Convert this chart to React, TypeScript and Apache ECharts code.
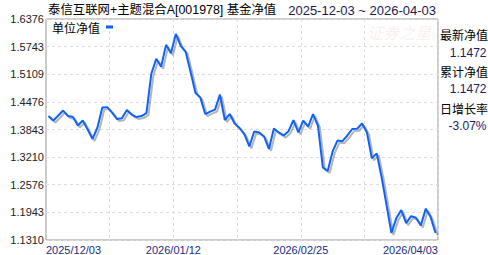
import React, { useEffect, useRef } from "react";
import * as echarts from "echarts";

const dates = [
  "2025/12/03","2025/12/04","2025/12/05","2025/12/08","2025/12/09","2025/12/10","2025/12/11","2025/12/12",
  "2025/12/15","2025/12/16","2025/12/17","2025/12/18","2025/12/19","2025/12/22","2025/12/23","2025/12/24",
  "2025/12/25","2025/12/26","2025/12/29","2025/12/30","2025/12/31",
  "2026/01/05","2026/01/06","2026/01/07","2026/01/08","2026/01/09","2026/01/12","2026/01/13","2026/01/14",
  "2026/01/15","2026/01/16","2026/01/19","2026/01/20","2026/01/21","2026/01/22","2026/01/23","2026/01/26",
  "2026/01/27","2026/01/28","2026/01/29","2026/01/30",
  "2026/02/02","2026/02/03","2026/02/04","2026/02/05","2026/02/06","2026/02/09","2026/02/10","2026/02/11",
  "2026/02/12","2026/02/13","2026/02/24","2026/02/25","2026/02/26","2026/02/27",
  "2026/03/02","2026/03/03","2026/03/04","2026/03/05","2026/03/06","2026/03/09","2026/03/10","2026/03/11",
  "2026/03/12","2026/03/13","2026/03/16","2026/03/17","2026/03/18","2026/03/19","2026/03/20","2026/03/23",
  "2026/03/24","2026/03/25","2026/03/26","2026/03/27","2026/03/30","2026/03/31",
  "2026/04/01","2026/04/02","2026/04/03",
];

const unitNav = [
  1.4151, 1.4048, 1.4163, 1.4277, 1.4151, 1.4128, 1.3934, 1.4048, 1.3843, 1.3626,
  1.3889, 1.4345, 1.4356, 1.4231, 1.4083, 1.4101, 1.4288, 1.4185, 1.4128, 1.4151,
  1.4220, 1.5121, 1.5463, 1.5281, 1.5783, 1.5589, 1.6034, 1.5760, 1.5623, 1.5167,
  1.4687, 1.4573, 1.4197, 1.4254, 1.4299, 1.4642, 1.4060, 1.4197, 1.3980, 1.3877,
  1.3729, 1.3455, 1.3797, 1.3775, 1.3683, 1.3398, 1.3866, 1.3775, 1.3706, 1.3804,
  1.4060, 1.3775, 1.4048, 1.3911, 1.4197, 1.3934, 1.2976, 1.2896, 1.3341, 1.3592,
  1.3576, 1.3706, 1.3854, 1.3859, 1.3980, 1.3775, 1.3181, 1.3295, 1.2748, 1.2109,
  1.1470, 1.1812, 1.1995, 1.1698, 1.1858, 1.1819, 1.1641, 1.2029, 1.1835, 1.1472,
];

const yTickLabels = ["1.1310", "1.1943", "1.2576", "1.3210", "1.3843", "1.4476", "1.5109", "1.5743", "1.6376"];
const yMin = 1.131;
const yMax = 1.6376;

const titleText = "泰信互联网+主题混合A[001978] 基金净值";
const rangeText = "2025-12-03 ~ 2026-04-03";
const seriesName = "单位净值";
const sideLabels = ["最新净值", "累计净值", "日增长率"];
const sideValues = ["1.1472", "1.1472", "-3.07%"];
const watermark = "证券之星";

export default function App() {
  const ref = useRef<HTMLDivElement>(null);
  useEffect(() => {
    if (!ref.current) return;
    const chart = echarts.init(ref.current, null, { renderer: "svg" });
    const yStep = (yMax - yMin) / (yTickLabels.length - 1);
    const n = dates.length;
    const labelStep = 26;
    const sideY = [34.5, 53, 71.5, 89, 108, 125.5];
    const graphics: any[] = [
      {
        type: "text",
        x: 48,
        y: 10,
        style: {
          text: titleText,
          fill: "#000",
          font: '12.4px "Liberation Sans", "Noto Sans CJK SC", sans-serif',
          textVerticalAlign: "middle",
        },
      },
      {
        type: "text",
        x: 436,
        y: 10,
        style: {
          text: rangeText,
          fill: "#1a1a50",
          font: '13px "Liberation Sans", Arial, sans-serif',
          textAlign: "right",
          textVerticalAlign: "middle",
        },
      },
      {
        type: "text",
        x: 399,
        y: 32,
        z: 0,
        style: {
          text: watermark,
          fill: "rgba(240,140,150,0.16)",
          font: 'italic 16px "Noto Sans CJK SC", sans-serif',
          textAlign: "center",
          textVerticalAlign: "middle",
        },
      },
    ];
    sideLabels.forEach((t, i) => {
      graphics.push({
        type: "text",
        x: 440,
        y: sideY[i * 2],
        style: {
          text: t,
          fill: "#000",
          font: '12px "Noto Sans CJK SC", sans-serif',
          textVerticalAlign: "middle",
        },
      });
      graphics.push({
        type: "text",
        x: 486.5,
        y: sideY[i * 2 + 1],
        style: {
          text: sideValues[i],
          fill: "#1a1a66",
          font: '12px "Liberation Sans", Arial, sans-serif',
          textAlign: "right",
          textVerticalAlign: "middle",
        },
      });
    });

    chart.setOption({
      animation: false,
      backgroundColor: "#fff",
      grid: {
        left: 46,
        right: 50,
        top: 19,
        bottom: 14,
        show: true,
        borderColor: "#999",
        borderWidth: 1,
        backgroundColor: "transparent",
      },
      legend: {
        data: [{ name: seriesName, icon: "rect" }],
        left: 52,
        top: 21,
        align: "right",
        itemWidth: 7,
        itemHeight: 3,
        itemGap: 4,
        padding: 0,
        textStyle: { fontSize: 12, color: "#000", fontFamily: '"Noto Sans CJK SC", sans-serif', padding: [0, 1, 0, 0] },
      },
      xAxis: [
        {
          type: "category",
          data: dates,
          boundaryGap: true,
          axisLine: { show: false },
          axisTick: { show: false },
          axisLabel: { show: false },
          splitLine: {
            show: true,
            interval: (index: number) => index > 0 && index < n - 10 && index % 13 === 0,
            lineStyle: { color: "#ddd", type: [3, 3], width: 1 },
          },
        },
        {
          type: "value",
          min: 0,
          max: n,
          interval: labelStep,
          position: "bottom",
          axisLine: { show: false },
          axisTick: { show: false },
          splitLine: { show: false },
          axisLabel: {
            show: true,
            margin: 4,
            fontSize: 11,
            color: "#1a2b80",
            fontFamily: '"Liberation Sans", Arial, sans-serif',
            hideOverlap: false,
            showMinLabel: true,
            showMaxLabel: true,
            alignMinLabel: "left",
            alignMaxLabel: "right",
            formatter: (v: number) => {
              if (v >= n) return dates[n - 1];
              if (v % labelStep === 0 && v + labelStep <= n) return dates[v];
              return "";
            },
          },
        },
      ],
      yAxis: {
        type: "value",
        min: yMin,
        max: yMax,
        interval: yStep,
        axisLine: { show: false },
        axisTick: { show: false },
        splitLine: { show: true, lineStyle: { color: "#ddd", type: [3, 3], width: 1 } },
        axisLabel: {
          margin: 2,
          fontSize: 11,
          color: "#222",
          fontFamily: '"Liberation Sans", Arial, sans-serif',
          showMinLabel: true,
          showMaxLabel: true,
          formatter: (v: number) => {
            const idx = Math.round((v - yMin) / yStep);
            return yTickLabels[idx] ?? "";
          },
        },
      },
      graphic: graphics,
      series: [
        {
          name: seriesName,
          type: "line",
          xAxisIndex: 0,
          data: unitNav,
          showSymbol: false,
          symbol: "none",
          color: "#0a64f5",
          lineStyle: {
            color: "#0a64f5",
            width: 2,
            shadowColor: "rgba(90,90,90,0.45)",
            shadowBlur: 1,
            shadowOffsetX: 2,
            shadowOffsetY: 2,
          },
        },
      ],
    });
    return () => chart.dispose();
  }, []);
  return (
    <div
      ref={ref}
      style={{ position: "fixed", left: 0, top: 0, width: 488, height: 255, background: "#fff" }}
    />
  );
}
